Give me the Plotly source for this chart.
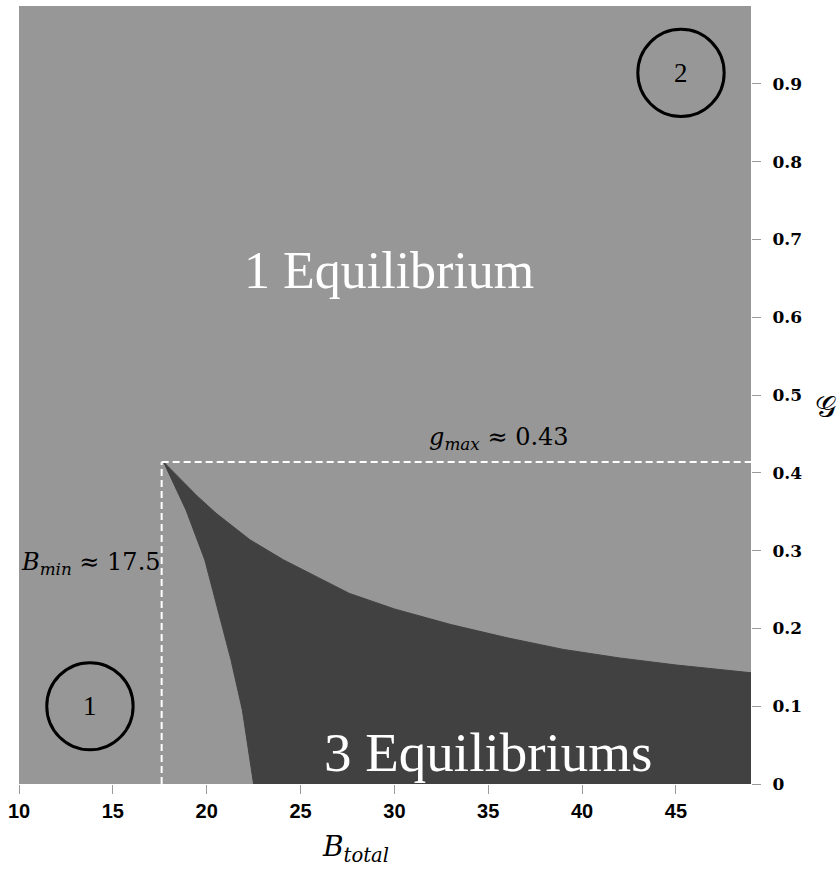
import plotly.graph_objects as go

# Boundary of the three-equilibrium region in the (B_total, g) plane
upper_B = [17.7, 18.5, 19.5, 20.5, 22.3, 24.1, 25.9, 27.6, 30.0, 33.0, 36.0, 39.0, 42.0, 45.0, 49.0]
upper_g = [0.414, 0.395, 0.370, 0.348, 0.314, 0.288, 0.266, 0.245, 0.225, 0.205, 0.188, 0.173, 0.162, 0.153, 0.143]
lower_B = [17.7, 18.9, 19.9, 20.6, 21.3, 21.9, 22.5]
lower_g = [0.414, 0.352, 0.288, 0.224, 0.159, 0.095, 0.0]

B_min = 17.6
g_max = 0.414

x_range = [10, 49]
y_range = [0, 1.0]
x_ticks = [10, 15, 20, 25, 30, 35, 40, 45]
y_ticks = [0, 0.1, 0.2, 0.3, 0.4, 0.5, 0.6, 0.7, 0.8, 0.9]
y_tick_text = ["0", "0.1", "0.2", "0.3", "0.4", "0.5", "0.6", "0.7", "0.8", "0.9"]

LIGHT = "#979797"
DARK = "#414141"

# closed polygon: upper edge -> right border -> lower edge back to the cusp
poly_x = upper_B + [x_range[1]] + lower_B[::-1]
poly_y = upper_g + [0.0] + lower_g[::-1]

fig = go.Figure()
fig.add_trace(go.Scatter(
    x=poly_x, y=poly_y, mode="lines", fill="toself",
    fillcolor=DARK, line=dict(color=DARK, width=1),
    hoverinfo="skip", showlegend=False,
))

# dashed guides at the cusp
guide = dict(color="white", width=2, dash="7px,4px")
fig.add_shape(type="line", x0=B_min, x1=B_min, y0=0, y1=g_max, line=guide)
fig.add_shape(type="line", x0=B_min, x1=x_range[1], y0=g_max, y1=g_max, line=guide)

# circled region markers
circles = [("1", 13.78, 0.100), ("2", 45.27, 0.914)]
rx, ry = 2.3, 0.056
for label, cx, cy in circles:
    fig.add_shape(type="circle", x0=cx - rx, x1=cx + rx, y0=cy - ry, y1=cy + ry,
                  line=dict(color="black", width=3))
    fig.add_annotation(x=cx, y=cy, text=label, showarrow=False,
                       font=dict(family="Liberation Serif", size=27, color="black"))

fig.add_annotation(x=29.7, y=0.66, text="1 Equilibrium", showarrow=False,
                   font=dict(family="Liberation Serif", size=52, color="white"))
fig.add_annotation(x=35.0, y=0.04, text="3 Equilibriums", showarrow=False,
                   font=dict(family="Liberation Serif", size=55, color="white"))
fig.add_annotation(x=35.6, y=g_max + 0.008, yanchor="bottom",
                   text="<i>g</i><sub><i>max</i></sub> ≈ 0.43", showarrow=False,
                   font=dict(family="DejaVu Serif", size=24, color="black"))
fig.add_annotation(x=B_min + 0.05, y=0.284, xanchor="right",
                   text="<i>B</i><sub><i>min</i></sub> ≈ 17.5", showarrow=False,
                   font=dict(family="DejaVu Serif", size=24, color="black"))

# axis titles
fig.add_annotation(xref="paper", yref="paper", x=0.46, y=-0.057, yanchor="top",
                   text="<i>B</i><sub><i>total</i></sub>", showarrow=False,
                   font=dict(family="DejaVu Serif", size=28, color="black"))
fig.add_annotation(xref="paper", yref="paper", x=1.085, xanchor="left", y=0.485,
                   text="𝒢", showarrow=False,
                   font=dict(family="DejaVu Serif", size=30, color="black"))

fig.update_layout(
    width=837, height=873,
    margin=dict(l=19, r=86, t=6, b=89),
    paper_bgcolor="white", plot_bgcolor=LIGHT,
    xaxis=dict(range=x_range, tickvals=x_ticks, showgrid=False, zeroline=False,
               ticks="outside", ticklen=9, tickcolor="#9a9a9a", tickwidth=1,
               tickfont=dict(family="Liberation Sans Narrow, Liberation Sans", size=20,
                             color="black", weight="bold"),
               ticklabelstandoff=0),
    yaxis=dict(range=y_range, tickvals=y_ticks, ticktext=y_tick_text, side="right",
               showgrid=False, zeroline=False,
               ticks="outside", ticklen=9, tickcolor="#9a9a9a", tickwidth=1,
               ticklabelstandoff=8,
               tickfont=dict(family="DejaVu Serif", size=17, color="black", weight="bold")),
)

fig.write_html("out.html")
